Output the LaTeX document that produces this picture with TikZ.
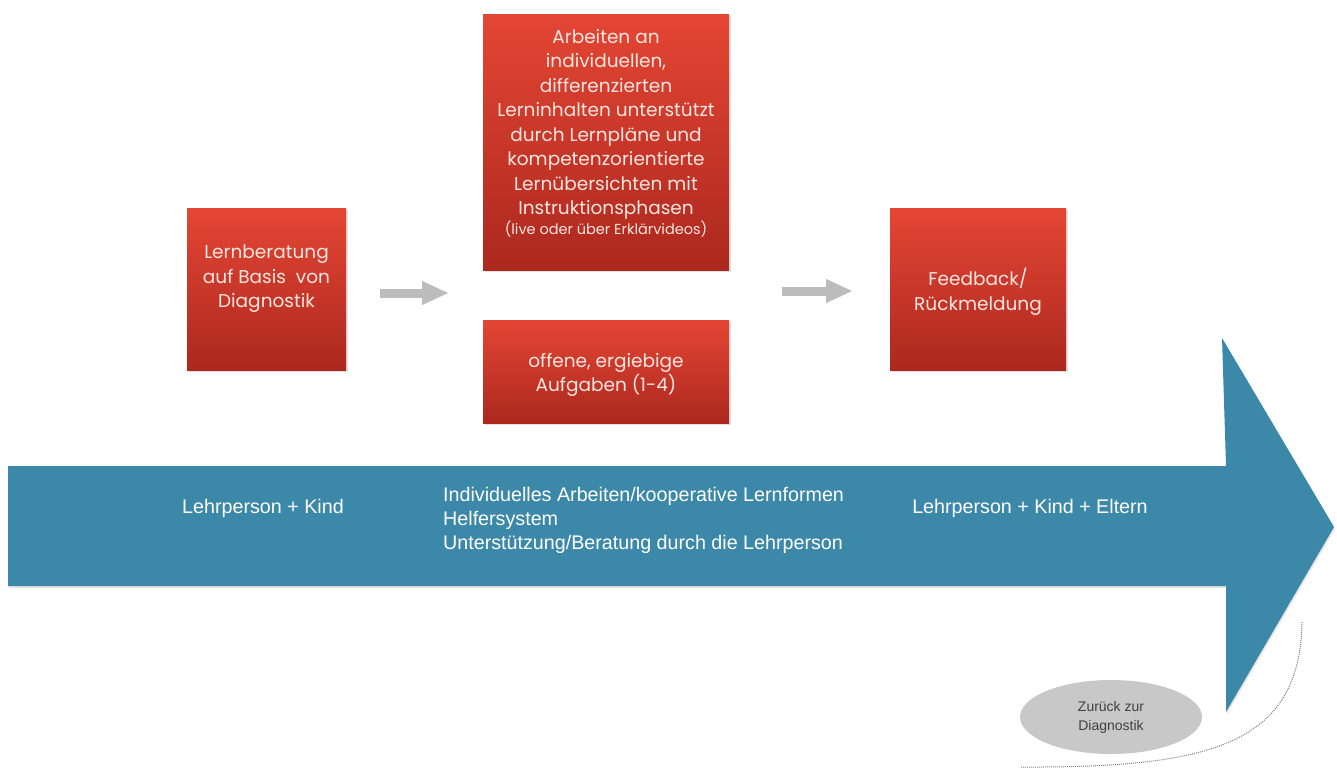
\documentclass[tikz,border=0pt]{standalone}
\usepackage{fontspec}
\setmainfont{Liberation Sans}
\newfontfamily\boxfont{Poppins}
\usetikzlibrary{arrows.meta,shadows,shapes.geometric}
\definecolor{redtop}{RGB}{228,70,52}
\definecolor{redbot}{RGB}{172,40,30}
\definecolor{boxtxt}{RGB}{250,230,224}
\definecolor{flowblue}{RGB}{60,136,168}
\definecolor{arrgray}{RGB}{188,188,188}
\definecolor{ellgray}{RGB}{200,200,200}
\tikzset{
  redbox/.style={rectangle, top color=redtop, bottom color=redbot, draw=none, inner sep=0pt,
    drop shadow={opacity=0.25, shadow xshift=1.5pt, shadow yshift=-1.5pt}},
  boxtext/.style={align=center, text=boxtxt, font=\boxfont\fontsize{18.5}{24.5}\selectfont, inner sep=0pt},
  flowtext/.style={text=white, font=\fontsize{19.7}{24}\selectfont, inner sep=0pt},
  grayarrow/.style={draw=arrgray, line width=9pt, -{Triangle[length=27pt,width=22pt]}},
  backnote/.style={ellipse, fill=ellgray, draw=none, minimum width=182pt, minimum height=74pt,
    align=center, text=black!75, font=\fontsize{14}{19}\selectfont},
}
\begin{document}
\begin{tikzpicture}[x=1pt,y=-1pt]
\useasboundingbox (0,0) rectangle (1337,769);
% big blue arrow
\fill[flowblue, drop shadow={opacity=0.2, shadow xshift=1pt, shadow yshift=-2pt}]
  (8,466) -- (1226,466) -- (1222,338) -- (1334,527) -- (1226,712) -- (1226,586) -- (8,586) -- cycle;
% red boxes
\node[redbox, minimum width=159pt, minimum height=162pt] (b1) at (266.5,289) {};
\node[boxtext] (b1t) at (266.5,279) {Lernberatung\\auf Basis\ \ von\\Diagnostik};
\node[redbox, minimum width=246pt, minimum height=256pt] (b2) at (606,142) {};
\node[boxtext] (b2t) at (606,133) {Arbeiten an\\individuellen,\\differenzierten\\Lerninhalten unterstützt\\durch Lernpläne und\\kompetenzorientierte\\Lernübersichten mit\\Instruktionsphasen\\[-5pt]{\fontsize{14.5}{16}\selectfont(live oder über Erklärvideos)}};
\node[redbox, minimum width=246pt, minimum height=103pt] (b3) at (606,371.5) {};
\node[boxtext] (b3t) at (606,375) {offene, ergiebige\\Aufgaben (1-4)};
\node[redbox, minimum width=176pt, minimum height=162pt] (b4) at (978,289) {};
\node[boxtext] (b4t) at (978,292) {Feedback/\\Rückmeldung};
% gray arrows
\coordinate (a1s) at (380,293);
\coordinate (a1e) at (449,293);
\coordinate (a2s) at (782,291);
\coordinate (a2e) at (853,291);
\draw[grayarrow] (a1s) -- (a1e);
\draw[grayarrow] (a2s) -- (a2e);
% texts on blue arrow
\node[flowtext] (t1) at (263,508) {Lehrperson + Kind};
\node[flowtext, anchor=west, align=left] (t2) at (443,520) {Individuelles Arbeiten/kooperative Lernformen\\Helfersystem\\Unterstützung/Beratung durch die Lehrperson};
\node[flowtext] (t3) at (1030,508) {Lehrperson + Kind + Eltern};
% back to diagnostics
\node[backnote] (back) at (1111,717) {Zurück zur\\Diagnostik};
\coordinate (cs) at (1302,622);
\coordinate (ce) at (1020,767);
\draw[black!50, line width=1pt, densely dotted] (cs) .. controls (1300,745) and (1210,768) .. (ce);
\end{tikzpicture}
\end{document}
